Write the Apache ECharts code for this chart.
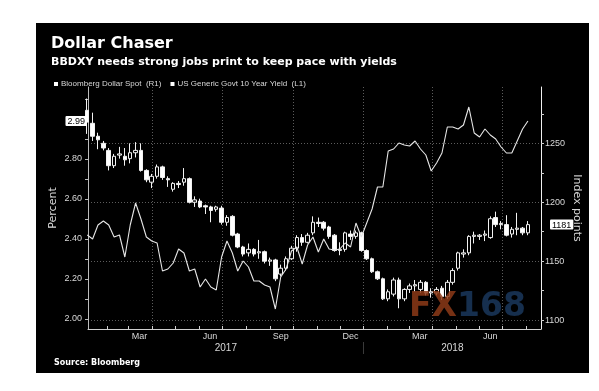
<!DOCTYPE html>
<html><head><meta charset="utf-8">
<script src="https://cdn.jsdelivr.net/npm/echarts@6/dist/echarts.min.js"></script>
<style>
html,body{margin:0;padding:0;background:#fff;}
#bg{position:absolute;left:36px;top:23px;width:553px;height:350px;background:#000;}
#chart{position:absolute;left:0;top:0;width:599px;height:391px;}
</style></head><body>
<div id="bg"></div><div id="chart"></div>
<script>
// Weekly dates (Fridays)
const weeks = [
 '2017-01-06','2017-01-13','2017-01-20','2017-01-27','2017-02-03','2017-02-10','2017-02-17','2017-02-24',
 '2017-03-03','2017-03-10','2017-03-17','2017-03-24','2017-03-31','2017-04-07','2017-04-14','2017-04-21','2017-04-28',
 '2017-05-05','2017-05-12','2017-05-19','2017-05-26','2017-06-02','2017-06-09','2017-06-16','2017-06-23','2017-06-30',
 '2017-07-07','2017-07-14','2017-07-21','2017-07-28','2017-08-04','2017-08-11','2017-08-18','2017-08-25',
 '2017-09-01','2017-09-08','2017-09-15','2017-09-22','2017-09-29','2017-10-06','2017-10-13','2017-10-20','2017-10-27',
 '2017-11-03','2017-11-10','2017-11-17','2017-11-24','2017-12-01','2017-12-08','2017-12-15','2017-12-22','2017-12-29',
 '2018-01-05','2018-01-12','2018-01-19','2018-01-26','2018-02-02','2018-02-09','2018-02-16','2018-02-23',
 '2018-03-02','2018-03-09','2018-03-16','2018-03-23','2018-03-30','2018-04-06','2018-04-13','2018-04-20','2018-04-27',
 '2018-05-04','2018-05-11','2018-05-18','2018-05-25','2018-06-01','2018-06-08','2018-06-15','2018-06-22','2018-06-29',
 '2018-07-06','2018-07-13','2018-07-20','2018-07-27','2018-08-03'
];
// Bloomberg Dollar Spot (index points)
const dxyOpen = [1278,1267,1256,1250,1244,1231,1240,1239,1237,1242,1244,1227,1217,1222,1230,1220,1211,1216,1217,1220,1200,1201,1197,1196,1194,1195,1183,1188,1173,1162,1157,1160,1157,1158,1150,1151,1139,1144,1152,1161,1170,1166,1174,1183,1183,1179,1172,1159,1160,1173,1171,1174,1159,1152,1141,1135,1118,1122,1134,1118,1126,1129,1126,1132,1123,1123,1127,1120,1132,1144,1156,1157,1171,1171,1172,1170,1187,1181,1181,1173,1177,1178,1174];
const dxyClose = [1268,1256,1253,1246,1231,1239,1241,1236,1242,1244,1227,1219,1222,1230,1221,1219,1216,1215,1220,1200,1202,1196,1196,1193,1196,1183,1187,1172,1162,1156,1160,1156,1158,1150,1151,1135,1144,1152,1161,1170,1166,1172,1183,1182,1178,1171,1159,1160,1174,1171,1174,1159,1152,1141,1135,1118,1124,1134,1118,1126,1129,1130,1132,1123,1124,1126,1120,1132,1142,1157,1157,1171,1172,1172,1173,1186,1181,1182,1172,1177,1178,1174,1181];
const dxyLow = [1258,1252,1245,1244,1227,1229,1237,1231,1233,1238,1226,1217,1212,1220,1219,1213,1209,1212,1214,1199,1196,1195,1190,1183,1192,1181,1180,1171,1161,1154,1154,1154,1152,1148,1146,1133,1137,1142,1151,1158,1163,1165,1172,1179,1176,1169,1158,1155,1158,1168,1169,1158,1151,1140,1134,1117,1116,1120,1110,1116,1123,1124,1123,1121,1119,1121,1117,1118,1130,1142,1153,1155,1165,1168,1167,1169,1179,1177,1171,1170,1172,1172,1172];
const dxyHigh = [1288,1276,1259,1252,1246,1241,1247,1246,1250,1251,1250,1228,1224,1232,1231,1222,1217,1218,1229,1221,1205,1203,1198,1197,1197,1197,1189,1189,1174,1163,1165,1161,1168,1159,1153,1152,1147,1154,1163,1172,1173,1174,1188,1187,1184,1180,1173,1166,1175,1176,1176,1175,1160,1153,1142,1136,1126,1136,1136,1127,1131,1134,1134,1133,1127,1128,1129,1134,1144,1158,1160,1172,1175,1173,1176,1188,1192,1184,1189,1179,1191,1179,1184];
// US Generic Govt 10 Year Yield (percent)
const yields = [2.42,2.40,2.47,2.49,2.47,2.41,2.42,2.31,2.47,2.58,2.50,2.41,2.39,2.38,2.24,2.25,2.28,2.35,2.33,2.24,2.25,2.16,2.20,2.16,2.145,2.31,2.39,2.33,2.24,2.29,2.26,2.19,2.19,2.17,2.16,2.05,2.21,2.25,2.34,2.36,2.275,2.37,2.41,2.335,2.40,2.35,2.345,2.35,2.38,2.36,2.48,2.41,2.48,2.55,2.66,2.66,2.84,2.85,2.88,2.87,2.865,2.89,2.85,2.82,2.74,2.78,2.83,2.96,2.96,2.95,2.97,3.06,2.93,2.91,2.95,2.92,2.90,2.86,2.83,2.83,2.89,2.95,2.99];

// Axis ticks / labels
const xRange = ['2017-01-07','2018-08-20'];
const monthTicks = ['2017-02-01','2017-03-01','2017-04-01','2017-05-01','2017-06-01','2017-07-01','2017-08-01','2017-09-01','2017-10-01','2017-11-01','2017-12-01','2018-01-01','2018-02-01','2018-03-01','2018-04-01','2018-05-01','2018-06-01','2018-07-01','2018-08-01'];
const quarterLines = ['2017-04-01','2017-07-01','2017-10-01','2018-01-01','2018-04-01','2018-07-01'];
const monthLabelDates = ['2017-03-15','2017-06-15','2017-09-15','2017-12-15','2018-03-15','2018-06-15'];
const monthLabelText = ['Mar','Jun','Sep','Dec','Mar','Jun'];
const yearBreak = '2018-01-01';
const yearText = ['2017','2018'];
const leftRange = [1.95, 3.16];
const leftTicks = [2.0,2.1,2.2,2.3,2.4,2.5,2.6,2.7,2.8,2.9,3.0,3.1];
const leftLabels = [2.0,2.2,2.4,2.6,2.8];
const rightRange = [1092.4, 1297.8];
const rightTicks = [1100,1125,1150,1175,1200,1225,1250,1275];
const rightLabels = [1100,1150,1200,1250];

const t = s => Date.UTC(+s.slice(0,4), +s.slice(5,7)-1, +s.slice(8,10));
const NARROW = "'Liberation Sans Narrow','Liberation Sans',sans-serif";
const BOLD = "'DejaVu Sans',sans-serif";
const LBL = '#d8d8d8';
const GRID = {color:'#5c5c5c', type:[1,2], width:1};

const xmin = t(xRange[0]), xmax = t(xRange[1]), yb = t(yearBreak);
const yearPos = [(xmin + yb) / 2, (yb + xmax) / 2];
const monthLabelPos = monthLabelDates.map(t);

const chart = echarts.init(document.getElementById('chart'), null, {renderer:'canvas'});
const baseX = {type:'value', min:xmin, max:xmax, position:'bottom', gridIndex:0, scale:true};
chart.setOption({
  animation:false,
  backgroundColor:'transparent',
  title:[
    {text:'Dollar Chaser', left:46, top:31, textStyle:{color:'#fff', fontSize:16, fontWeight:'bold', fontFamily:BOLD}},
    {text:'BBDXY needs strong jobs print to keep pace with yields', left:46, top:52, textStyle:{color:'#fff', fontSize:11, fontWeight:'bold', fontFamily:BOLD}},
    {text:'Source: Bloomberg', left:49, top:354, textStyle:{color:'#fff', fontSize:8, fontWeight:'bold', fontFamily:BOLD}}
  ],
  legend:{
    left:49, top:75, itemWidth:4, itemHeight:4, itemGap:9, icon:'rect',
    textStyle:{color:LBL, fontSize:8, fontFamily:NARROW, padding:[0,0,0,-2]},
    data:[
      {name:'Bloomberg Dollar Spot  (R1)', itemStyle:{color:'#fff', borderWidth:0}},
      {name:'US Generic Govt 10 Year Yield  (L1)', itemStyle:{color:'#fff', borderWidth:0}}
    ]
  },
  grid:{left:88, right:58, top:87, bottom:62},
  xAxis:[
    Object.assign({}, baseX, {
      axisLine:{show:true, lineStyle:{color:'#cfcfcf', width:1}},
      axisTick:{show:true, inside:true, length:3, lineStyle:{color:'#cfcfcf'}, customValues:monthTicks.map(t)},
      axisLabel:{show:false}, splitLine:{show:false}
    }),
    Object.assign({}, baseX, {
      axisLine:{show:false},
      axisTick:{show:false, customValues:quarterLines.map(t)},
      axisLabel:{show:false},
      splitLine:{show:true, lineStyle:GRID}
    }),
    Object.assign({}, baseX, {
      axisLine:{show:false}, axisTick:{show:false}, splitLine:{show:false},
      axisLabel:{show:true, margin:3, color:LBL, fontSize:9, fontFamily:NARROW,
        customValues:monthLabelPos,
        formatter:(v)=>{ const i = monthLabelPos.indexOf(v); return i>=0 ? monthLabelText[i] : ''; }}
    }),
    Object.assign({}, baseX, {
      offset:13,
      axisLine:{show:false},
      axisTick:{show:true, length:12, lineStyle:{color:'#3a3a3a'}, customValues:[yb]},
      splitLine:{show:false},
      axisLabel:{show:true, margin:1, color:LBL, fontSize:10, fontFamily:NARROW,
        customValues:yearPos,
        formatter:(v)=>{ const i = yearPos.indexOf(v); return i>=0 ? yearText[i] : ''; }}
    })
  ],
  yAxis:[
    {type:'value', min:leftRange[0], max:leftRange[1], position:'left',
     name:'Percent', nameLocation:'middle', nameGap:29, nameRotate:90, nameMoveOverlap:false,
     nameTextStyle:{color:LBL, fontSize:11, fontFamily:"'DejaVu Sans',sans-serif"},
     axisLine:{show:true, lineStyle:{color:'#bdbdbd'}},
     axisTick:{show:true, length:3, lineStyle:{color:'#bdbdbd'}, customValues:leftTicks},
     axisLabel:{show:true, margin:6, color:LBL, fontSize:9, fontFamily:NARROW, customValues:leftLabels,
       formatter:(v)=>v.toFixed(2)},
     splitLine:{show:false},
     axisPointer:{show:true, status:'show', value:yields[yields.length-1], triggerTooltip:false,
       lineStyle:{opacity:0}, label:{show:true, margin:1, backgroundColor:'#fff', color:'#000',
       fontSize:9, fontFamily:NARROW, padding:[1,2,0,2], borderRadius:1, formatter:(p)=>Number(p.value).toFixed(2)}}
    },
    {type:'value', min:rightRange[0], max:rightRange[1], position:'right',
     name:'Index points', nameLocation:'middle', nameGap:30, nameRotate:-90, nameMoveOverlap:false,
     nameTextStyle:{color:LBL, fontSize:11, fontFamily:"'DejaVu Sans',sans-serif"},
     axisLine:{show:true, lineStyle:{color:'#f0f0f0'}},
     axisTick:{show:true, length:3, lineStyle:{color:'#cfcfcf'}, customValues:rightTicks},
     axisLabel:{show:true, margin:4, color:LBL, fontSize:9, fontFamily:NARROW, customValues:rightLabels,
       formatter:(v)=>String(Math.round(v))},
     splitLine:{show:false},
     axisPointer:{show:true, status:'show', value:dxyClose[dxyClose.length-1], triggerTooltip:false,
       lineStyle:{opacity:0}, label:{show:true, margin:9, backgroundColor:'#fff', color:'#000',
       fontSize:9, fontFamily:NARROW, padding:[1,2,0,2], borderRadius:1, formatter:(p)=>String(Math.round(p.value))}}
    },
    {type:'value', min:rightRange[0], max:rightRange[1], position:'right',
     axisLine:{show:false}, axisLabel:{show:false},
     axisTick:{show:false, customValues:rightLabels},
     splitLine:{show:true, lineStyle:GRID}}
  ],
  graphic:[{
    type:'text', left:409, top:291, z:50, silent:true,
    style:{text:'{a|FX}{b|168}', rich:{
      a:{fill:'rgba(140,58,24,0.85)', fontSize:33, fontWeight:'bold', fontFamily:BOLD},
      b:{fill:'rgba(24,52,86,0.9)', fontSize:33, fontWeight:'bold', fontFamily:BOLD}}}
  }],
  series:[
    {name:'Bloomberg Dollar Spot  (R1)', type:'candlestick', xAxisIndex:0, yAxisIndex:1,
     encode:{x:0, y:[1,2,3,4]}, barWidth:4,
     itemStyle:{color:'#000', color0:'#fff', borderColor:'#f2f2f2', borderColor0:'#f2f2f2', borderWidth:1},
     data:weeks.map((w,i)=>[t(w), dxyOpen[i], dxyClose[i], dxyLow[i], dxyHigh[i]])},
    {name:'US Generic Govt 10 Year Yield  (L1)', type:'line', xAxisIndex:0, yAxisIndex:0, z:3,
     symbol:'none', showSymbol:false, lineStyle:{color:'#e6e6e6', width:1.1}, itemStyle:{color:'#fff'},
     data:weeks.map((w,i)=>[t(w), yields[i]])}
  ]
});
</script>
</body></html>
